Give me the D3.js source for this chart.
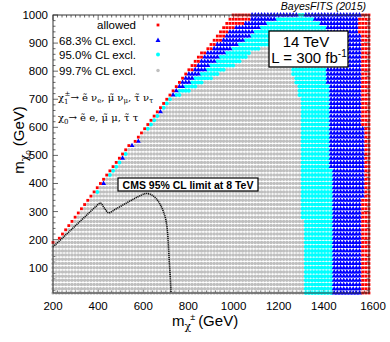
<!DOCTYPE html>
<html lang="en">
<head>
<meta charset="UTF-8">
<title>BayesFITS 14 TeV</title>
<script src="https://d3js.org/d3.v7.min.js"></script>
<style>
  body { margin: 0; background: #fff; }
  svg { display: block; }
  text { font-family: "Liberation Sans", Arial, sans-serif; fill: #000; }
  .serif { font-family: "DejaVu Serif", "Liberation Serif", serif; }
</style>
</head>
<body>
<svg width="390" height="342"></svg>
<script>
// ticks
const xTicks = [200, 400, 600, 800, 1000, 1200, 1400, 1600];
const yTicks = [100, 200, 300, 400, 500, 600, 700, 800, 900, 1000];

// scan grid (GeV)
const xStep = 14, yStep = 15;

// kinematic edge m_chi0 < m_chi+-: first point of each row
const edgeRows = [190, 1000];
const edgeX = [200, 990];

// bands along the diagonal, in points counted from the first point of a row
const bandRows  = [1000, 985, 970, 955, 940, 925, 910, 895, 880, 865, 850, 835, 820, 805, 790, 775, 760, 745, 730, 715, 700];
const redCount  = [   6,   7,   6,   4,   3,   3,   3,   2,   2,   2,   2,   2,   2,   2,   1,   1,   1,   1,   1,   1,   1];
const blueCount = [  21,  15,  13,  12,  11,  11,  10,   9,   8,   8,   7,   7,   6,   6,   5,   4,   4,   3,   2,   2,   1];
const cyanCount = [  23,  99,  99,  99,  99,  99,  99,  99,  17,  16,  16,  15,  14,  12,  11,  10,   8,   7,   6,   4,   2];

// rows under 700 GeV where the 2nd point along the diagonal is not grey
const secondCyanRows = [370, 430, 445, 460, 475, 505, 595, 610, 625, 640, 670, 685];
const secondBlueRows = [400, 490, 535, 550, 655];

// right-hand boundaries (m_chi+- where each class starts) vs m_chi0
const rightRows = [  10,  100,  200,  300,  400,  500,  600,  700,  760,  800,  880,  940,  955,  970,  985, 1000];
const cyanFromX = [1315, 1310, 1310, 1305, 1305, 1305, 1300, 1295, 1275, 1255, 1250, 1250, 1250, 1250, 1250, 1284];
const blueFromX = [1445, 1445, 1440, 1440, 1435, 1430, 1425, 1420, 1418, 1416, 1416, 1416, 1405, 1380, 1356, 1311];
const redFromX  = [1562, 1566, 1566, 1570, 1575, 1575, 1572, 1570, 1566, 1566, 1562, 1558, 1552, 1548, 1548, 1560];

// CMS 95% CL limit at 8 TeV
const cmsX = [200, 250, 300, 350, 390, 410, 428, 446, 480, 520, 560, 590, 610, 630, 655, 675, 690, 700, 707, 712, 716, 720, 723];
const cmsY = [174, 212, 250, 288, 318, 330, 312, 296, 310, 328, 346, 358, 364, 362, 348, 325, 298, 270, 230, 170, 110, 60, 11];

const legendLabels = ["allowed", "68.3% CL excl.", "95.0% CL excl.", "99.7% CL excl."];
const legendClasses = ["red", "blue", "cyan", "gray"];

const svg = d3.select("svg");
const x = d3.scaleLinear().domain([200, 1600]).range([53, 369]);
const y = d3.scaleLinear().domain([10, 1000]).range([293, 15]);
const edge = d3.scaleLinear().domain(edgeRows).range(edgeX).clamp(true);
const cyanFrom = d3.scaleLinear().domain(rightRows).range(cyanFromX);
const blueFrom = d3.scaleLinear().domain(rightRows).range(blueFromX);
const redFrom = d3.scaleLinear().domain(rightRows).range(redFromX);

// build the scan points
const cols = d3.range(200, 1600.1, xStep);
const rows = d3.range(10, 1000.1, yStep);
const points = [];
rows.forEach(my => {
    const onEdge = my >= 190;
    const e = onEdge ? edge(my) : 0;
    const b = bandRows.indexOf(my);
    cols.filter(mx => mx >= e - 0.5).forEach((mx, k) => {
        let c;
        if (mx >= redFrom(my)) c = "red";
        else if (mx >= blueFrom(my)) c = "blue";
        else if (onEdge && b >= 0 && k < redCount[b]) c = "red";
        else if (onEdge && b >= 0 && k < blueCount[b]) c = "blue";
        else if (onEdge && b >= 0 && k < cyanCount[b]) c = "cyan";
        else if (onEdge && b < 0 && k === 0) c = "red";
        else if (onEdge && b < 0 && k === 1 && secondCyanRows.includes(my)) c = "cyan";
        else if (onEdge && b < 0 && k === 1 && secondBlueRows.includes(my)) c = "blue";
        else if (mx >= cyanFrom(my)) c = "cyan";
        else c = "gray";
        points.push({mx, my, c});
    });
});

// ticks (under the points)
const tk = svg.append("g").attr("stroke", "#444").attr("stroke-width", 0.8);
d3.range(200, 1600.1, 20).forEach(v => {
    const len = v % 200 === 0 ? 5 : 2.5;
    tk.append("line").attr("x1", x(v)).attr("x2", x(v)).attr("y1", 293).attr("y2", 293 - len);
    tk.append("line").attr("x1", x(v)).attr("x2", x(v)).attr("y1", 15).attr("y2", 15 + len);
});
d3.range(20, 1000.1, 20).forEach(v => {
    const len = v % 100 === 0 ? 5 : 2.5;
    tk.append("line").attr("y1", y(v)).attr("y2", y(v)).attr("x1", 53).attr("x2", 53 + len);
    tk.append("line").attr("y1", y(v)).attr("y2", y(v)).attr("x1", 369).attr("x2", 369 - len);
});

// markers
const tri = d3.symbol().type(d3.symbolTriangle).size(11);
function drawMarker(g, c, px, py) {
    if (c === "gray") g.append("circle").attr("cx", px).attr("cy", py).attr("r", 1.75).attr("fill", "#bfbfbf");
    else if (c === "cyan") g.append("circle").attr("cx", px).attr("cy", py).attr("r", 2.0).attr("fill", "#00ffff");
    else if (c === "blue") g.append("path").attr("d", tri()).attr("transform", `translate(${px},${py})`).attr("fill", "#0000ff");
    else g.append("rect").attr("x", px - 1.4).attr("y", py - 1.4).attr("width", 2.8).attr("height", 2.8).attr("fill", "#ff0000");
}
const pg = svg.append("g");
["gray", "cyan", "blue", "red"].forEach(c => {
    points.filter(p => p.c === c).forEach(p => drawMarker(pg, c, x(p.mx), y(p.my)));
});

// CMS contour
const cms = cmsX.map((v, i) => [v, cmsY[i]]);
svg.append("path")
    .attr("d", d3.line().x(d => x(d[0])).y(d => y(d[1])).curve(d3.curveCatmullRom)(cms))
    .attr("fill", "none").attr("stroke", "#111").attr("stroke-width", 1.6)
    .attr("stroke-dasharray", "1.2,0.7");

// frame
svg.append("rect").attr("x", 53).attr("y", 15).attr("width", 316).attr("height", 278)
    .attr("fill", "none").attr("stroke", "#333").attr("stroke-width", 1);

// tick labels
svg.selectAll("text.xt").data(xTicks).enter().append("text")
    .attr("class", "xt").attr("x", d => x(d) + (d === 1600 ? 4 : 0)).attr("y", 310)
    .attr("text-anchor", "middle").attr("font-size", 11.5).text(d => d);
svg.selectAll("text.yt").data(yTicks).enter().append("text")
    .attr("class", "yt").attr("x", 48).attr("y", d => y(d) + 4)
    .attr("text-anchor", "end").attr("font-size", 11.5).text(d => d);

// axis titles
const xt = svg.append("text").attr("x", 172).attr("y", 326).attr("font-size", 15);
xt.append("tspan").text("m");
xt.append("tspan").attr("class", "serif").attr("font-size", 11).attr("dy", 4).text("χ");
xt.append("tspan").attr("font-size", 9).attr("dy", -10).attr("dx", -1).text("±");
xt.append("tspan").attr("dy", 6).attr("dx", 3).text("(GeV)");

const yt = svg.append("text").attr("transform", "translate(24,140) rotate(-90)")
    .attr("text-anchor", "middle").attr("font-size", 15);
yt.append("tspan").text("m");
yt.append("tspan").attr("class", "serif").attr("font-size", 11).attr("dy", 4).text("χ");
yt.append("tspan").attr("font-size", 8).attr("dy", 3).text("0");
yt.append("tspan").attr("dy", -7).attr("dx", 4).text("(GeV)");

// legend
legendLabels.forEach((t, i) => {
    const cy = [25, 40.5, 54.5, 70.5][i];
    svg.append("text").attr("x", 136).attr("y", cy + 4).attr("text-anchor", "end")
        .attr("font-size", 11.5).text(t);
    const g = svg.append("g");
    drawMarker(g, legendClasses[i], 158, cy);
});

// decay text
const l1 = svg.append("text").attr("class", "serif").attr("x", 58).attr("y", 101).attr("font-size", 10);
l1.append("tspan").text("χ");
l1.append("tspan").attr("font-size", 7).attr("dy", 3).text("1");
l1.append("tspan").attr("font-size", 7).attr("dy", -8).attr("dx", -4).text("±");
l1.append("tspan").attr("dy", 5).text("→ e\u0303 ν");
l1.append("tspan").attr("font-size", 7).attr("dy", 2).text("e");
l1.append("tspan").attr("dy", -2).text(", μ\u0303 ν");
l1.append("tspan").attr("font-size", 7).attr("dy", 2).text("μ");
l1.append("tspan").attr("dy", -2).text(", τ\u0303 ν");
l1.append("tspan").attr("font-size", 7).attr("dy", 2).text("τ");

const l2 = svg.append("text").attr("class", "serif").attr("x", 58).attr("y", 121).attr("font-size", 10);
l2.append("tspan").text("χ");
l2.append("tspan").attr("font-size", 7).attr("dy", 3).text("0");
l2.append("tspan").attr("dy", -3).text("→ e\u0303 e, μ\u0303 μ, τ\u0303 τ");

// CMS label
svg.append("rect").attr("x", 118).attr("y", 178).attr("width", 140).attr("height", 13)
    .attr("fill", "#fff").attr("stroke", "#000").attr("stroke-width", 1.2);
svg.append("text").attr("x", 188).attr("y", 188.5).attr("text-anchor", "middle")
    .attr("font-size", 10.5).attr("font-weight", "bold").text("CMS 95% CL limit at 8 TeV");

// energy / luminosity box
svg.append("rect").attr("x", 269).attr("y", 31).attr("width", 79).attr("height", 36)
    .attr("fill", "#fff").attr("stroke", "#000").attr("stroke-width", 1.3);
svg.append("text").attr("x", 306).attr("y", 46.5).attr("text-anchor", "middle")
    .attr("font-size", 15).text("14 TeV");
const lum = svg.append("text").attr("x", 309).attr("y", 63).attr("text-anchor", "middle").attr("font-size", 15);
lum.append("tspan").text("L = 300 fb");
lum.append("tspan").attr("font-size", 10).attr("dy", -6).text("-1");

// signature
svg.append("text").attr("x", 366).attr("y", 10).attr("text-anchor", "end")
    .attr("font-size", 10.5).attr("font-style", "italic").attr("fill", "#222").text("BayesFITS (2015)");
</script>
</body>
</html>
